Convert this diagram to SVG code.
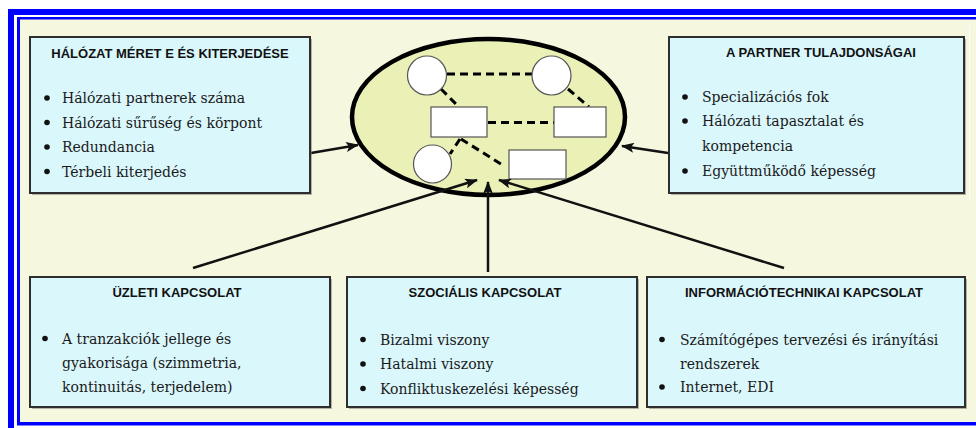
<svg xmlns="http://www.w3.org/2000/svg" width="976" height="428" viewBox="0 0 976 428">
  <style>
    .frame { fill: #0000ff; }
    .box { fill: #daf7fc; stroke: #2e2e2e; stroke-width: 2; }
    .shadow { fill: #7a7a7a; opacity: 0.55; }
    .title { font-family: "Liberation Sans", Arial, sans-serif; font-weight: bold; font-size: 13px; fill: #111; text-anchor: middle; }
    .item { font-family: "DejaVu Serif", "Liberation Serif", serif; font-size: 14px; fill: #1a1a1a; }
    .bullet { fill: #111; }
    .arrow { fill: none; stroke: #111; stroke-width: 2.5; marker-end: url(#head); }
    .link { fill: none; stroke: #000; stroke-width: 3; stroke-dasharray: 8 5; }
    .member { fill: #fff; stroke: #555; stroke-width: 1.2; }
  </style>
  <defs>
    <marker id="head" markerUnits="userSpaceOnUse" markerWidth="13" markerHeight="10" refX="12" refY="5" orient="auto">
      <path d="M0,0 L13,5 L0,10 L3,5 Z" fill="#111"/>
    </marker>
  </defs>

  <!-- page background and double blue frame -->
  <rect x="0" y="0" width="976" height="428" fill="#ffffff"/>
  <rect x="20" y="19" width="956" height="403" fill="#f6f7df"/>
  <rect class="frame" x="8" y="9" width="968" height="6"/>
  <rect class="frame" x="8" y="9" width="6" height="419"/>
  <rect class="frame" x="17" y="17" width="959" height="2.5"/>
  <rect class="frame" x="17" y="17" width="3" height="408"/>
  <rect class="frame" x="17" y="422" width="959" height="3.5"/>
  <line x1="969.5" y1="25" x2="969.5" y2="200" stroke="#ffffff" stroke-width="1.2" opacity="0.8"/>

  <!-- central network -->
  <g id="network">
    <ellipse cx="488.5" cy="117" rx="136.5" ry="78" fill="#ebf0b6" stroke="#000" stroke-width="4.5"/>
    <g id="network-links">
      <line class="link" x1="447" y1="74" x2="532" y2="74"/>
      <line class="link" x1="441" y1="89" x2="459" y2="107"/>
      <line class="link" x1="568" y1="89" x2="589" y2="107"/>
      <line class="link" x1="488" y1="122.5" x2="554" y2="122.5"/>
      <line class="link" x1="461" y1="139" x2="501" y2="164"/>
      <line class="link" x1="460" y1="139" x2="450" y2="154"/>
    </g>
    <circle class="member" cx="427" cy="75.5" r="19.5"/>
    <circle class="member" cx="551.5" cy="75.5" r="19.5"/>
    <rect class="member" x="431" y="107" width="56" height="30"/>
    <rect class="member" x="554" y="107" width="52" height="30"/>
    <circle class="member" cx="432.5" cy="164" r="19"/>
    <rect class="member" x="509" y="150" width="57" height="29"/>
  </g>

  <!-- connectors: solid arrows into the network -->
  <g id="connectors">
    <path class="arrow" d="M311,153 L358,145"/>
    <path class="arrow" d="M668,153 L622,146"/>
    <path class="arrow" d="M193,268 L477,180"/>
    <path class="arrow" d="M488,272 L488,182"/>
    <path class="arrow" d="M784,268 L499,180"/>
  </g>

  <!-- network size and extent -->
  <g id="box-halozat">
    <rect class="shadow" x="32" y="39" width="280" height="156"/>
    <rect class="box" x="30" y="37" width="280" height="156"/>
    <text class="title" x="170" y="57.5">HÁLÓZAT MÉRET E ÉS KITERJEDÉSE</text>
    <circle class="bullet" cx="47" cy="98" r="2.8"/>
    <text class="item" x="62" y="103">Hálózati partnerek száma</text>
    <circle class="bullet" cx="47" cy="122.5" r="2.8"/>
    <text class="item" x="62" y="127.5">Hálózati sűrűség és körpont</text>
    <circle class="bullet" cx="47" cy="147" r="2.8"/>
    <text class="item" x="62" y="152">Redundancia</text>
    <circle class="bullet" cx="47" cy="171.5" r="2.8"/>
    <text class="item" x="62" y="176.5">Térbeli kiterjedés</text>
  </g>

  <!-- partner properties -->
  <g id="box-partner">
    <rect class="shadow" x="671" y="39" width="295" height="156"/>
    <rect class="box" x="669" y="37" width="295" height="156"/>
    <text class="title" x="821" y="57">A PARTNER TULAJDONSÁGAI</text>
    <circle class="bullet" cx="685" cy="97" r="2.8"/>
    <text class="item" x="702" y="102">Specializációs fok</text>
    <circle class="bullet" cx="685" cy="121" r="2.8"/>
    <text class="item" x="702" y="126">Hálózati tapasztalat és</text>
    <text class="item" x="702" y="150.5">kompetencia</text>
    <circle class="bullet" cx="685" cy="171" r="2.8"/>
    <text class="item" x="702" y="176">Együttműködő képesség</text>
  </g>

  <!-- business relations -->
  <g id="box-uzleti">
    <rect class="shadow" x="32" y="279" width="300" height="130"/>
    <rect class="box" x="30" y="277" width="300" height="130"/>
    <text class="title" x="177" y="297">ÜZLETI KAPCSOLAT</text>
    <circle class="bullet" cx="45" cy="338.5" r="2.8"/>
    <text class="item" x="62" y="343.5">A tranzakciók jellege és</text>
    <text class="item" x="62" y="367.5">gyakorisága (szimmetria,</text>
    <text class="item" x="62" y="391.5">kontinuitás, terjedelem)</text>
  </g>

  <!-- social relations -->
  <g id="box-szocialis">
    <rect class="shadow" x="349" y="279" width="290" height="130"/>
    <rect class="box" x="347" y="277" width="290" height="130"/>
    <text class="title" x="485" y="297">SZOCIÁLIS KAPCSOLAT</text>
    <circle class="bullet" cx="363" cy="339.5" r="2.8"/>
    <text class="item" x="380" y="344.5">Bizalmi viszony</text>
    <circle class="bullet" cx="363" cy="364" r="2.8"/>
    <text class="item" x="380" y="369">Hatalmi viszony</text>
    <circle class="bullet" cx="363" cy="388.5" r="2.8"/>
    <text class="item" x="380" y="393.5">Konfliktuskezelési képesség</text>
  </g>

  <!-- information technology relations -->
  <g id="box-informacio">
    <rect class="shadow" x="649" y="279" width="318" height="130"/>
    <rect class="box" x="647" y="277" width="318" height="130"/>
    <text class="title" x="804" y="297">INFORMÁCIÓTECHNIKAI KAPCSOLAT</text>
    <circle class="bullet" cx="662" cy="339.5" r="2.8"/>
    <text class="item" x="680" y="344.5">Számítógépes tervezési és irányítási</text>
    <text class="item" x="680" y="368.5">rendszerek</text>
    <circle class="bullet" cx="662" cy="387" r="2.8"/>
    <text class="item" x="680" y="392">Internet, EDI</text>
  </g>
</svg>
